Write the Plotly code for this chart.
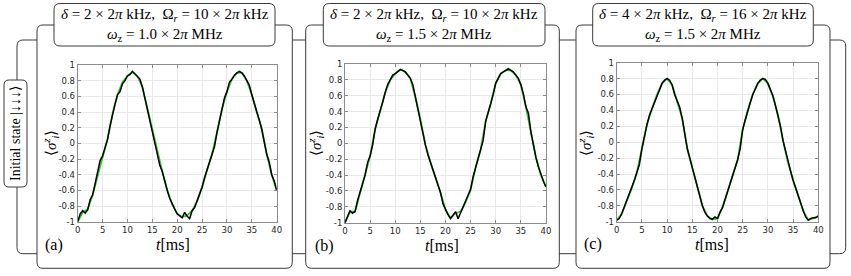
import plotly.graph_objects as go

W, H = 851, 276

# ---------------- data ----------------
t_black = [i * 0.5 for i in range(81)]   # time grid, ms (0 .. 40, step 0.5)
t_green = list(range(41))                # time grid, ms (0 .. 40, step 1)

black_a = [-1.00, -0.90, -0.86, -0.89, -0.85, -0.72, -0.66, -0.52, -0.40, -0.22,
           -0.16, -0.05, 0.05, 0.22, 0.38, 0.50, 0.62, 0.66, 0.76, 0.80,
           0.86, 0.88, 0.92, 0.89, 0.86, 0.82, 0.72, 0.58, 0.45, 0.30,
           0.15, 0.04, -0.12, -0.28, -0.36, -0.50, -0.60, -0.70, -0.78, -0.84,
           -0.90, -0.93, -0.95, -0.88, -0.93, -0.96, -0.86, -0.82, -0.74, -0.66,
           -0.56, -0.44, -0.34, -0.26, -0.14, -0.04, 0.14, 0.30, 0.44, 0.58,
           0.66, 0.78, 0.82, 0.87, 0.90, 0.92, 0.90, 0.86, 0.80, 0.74,
           0.62, 0.50, 0.40, 0.30, 0.18, 0.02, -0.14, -0.24, -0.40, -0.48,
           -0.60]
green_a = [-1.00, -0.88, -0.84, -0.66, -0.42, -0.18, 0.06, 0.38, 0.62, 0.78,
           0.86, 0.91, 0.86, 0.72, 0.45, 0.15, -0.12, -0.36, -0.60, -0.78,
           -0.90, -0.94, -0.92, -0.86, -0.74, -0.56, -0.34, -0.14, 0.14, 0.44,
           0.66, 0.82, 0.90, 0.90, 0.80, 0.62, 0.40, 0.18, -0.14, -0.40,
           -0.60]

black_b = [-1.00, -0.92, -0.85, -0.88, -0.86, -0.72, -0.62, -0.50, -0.40, -0.24,
           -0.16, -0.02, 0.18, 0.30, 0.40, 0.52, 0.64, 0.74, 0.80, 0.86,
           0.88, 0.91, 0.93, 0.92, 0.90, 0.86, 0.82, 0.74, 0.58, 0.44,
           0.30, 0.12, -0.02, -0.14, -0.24, -0.32, -0.42, -0.52, -0.62, -0.76,
           -0.84, -0.90, -0.95, -0.90, -0.86, -0.95, -0.88, -0.80, -0.74, -0.66,
           -0.58, -0.42, -0.30, -0.20, -0.08, 0.04, 0.28, 0.38, 0.50, 0.62,
           0.76, 0.82, 0.88, 0.90, 0.92, 0.94, 0.92, 0.90, 0.86, 0.82,
           0.74, 0.62, 0.46, 0.38, 0.14, -0.04, -0.18, -0.30, -0.40, -0.48,
           -0.55]
green_b = [-1.00, -0.86, -0.86, -0.62, -0.40, -0.16, 0.18, 0.40, 0.64, 0.80,
           0.88, 0.93, 0.90, 0.82, 0.58, 0.30, -0.02, -0.24, -0.42, -0.62,
           -0.84, -0.94, -0.88, -0.86, -0.74, -0.58, -0.30, -0.08, 0.28, 0.50,
           0.76, 0.88, 0.92, 0.92, 0.86, 0.74, 0.46, 0.14, -0.18, -0.40,
           -0.55]

black_c = [-0.98, -0.96, -0.90, -0.82, -0.74, -0.66, -0.58, -0.48, -0.38, -0.28,
           -0.08, 0.08, 0.22, 0.34, 0.42, 0.52, 0.60, 0.68, 0.74, 0.78,
           0.80, 0.78, 0.72, 0.60, 0.52, 0.44, 0.30, 0.08, -0.08, -0.20,
           -0.32, -0.42, -0.56, -0.68, -0.80, -0.88, -0.93, -0.96, -0.97, -0.94,
           -0.96, -0.88, -0.82, -0.72, -0.62, -0.52, -0.42, -0.32, -0.22, -0.08,
           0.16, 0.28, 0.40, 0.50, 0.60, 0.68, 0.74, 0.78, 0.80, 0.79,
           0.74, 0.66, 0.58, 0.46, 0.34, 0.20, 0.02, -0.12, -0.26, -0.36,
           -0.48, -0.58, -0.68, -0.78, -0.86, -0.94, -0.98, -0.96, -0.95, -0.95,
           -0.93]
green_c = [-0.98, -0.90, -0.74, -0.58, -0.38, -0.08, 0.22, 0.42, 0.60, 0.74,
           0.80, 0.72, 0.52, 0.30, -0.08, -0.32, -0.56, -0.80, -0.93, -0.97,
           -0.96, -0.82, -0.62, -0.42, -0.22, 0.16, 0.40, 0.60, 0.74, 0.80,
           0.74, 0.58, 0.34, 0.02, -0.26, -0.48, -0.68, -0.86, -0.98, -0.95,
           -0.93]

x_tickvals = [0, 5, 10, 15, 20, 25, 30, 35, 40]
x_ticktext = ["0", "5", "10", "15", "20", "25", "30", "35", "40"]
y_tickvals = [-1, -0.8, -0.6, -0.4, -0.2, 0, 0.2, 0.4, 0.6, 0.8, 1]
y_ticktext = ["-1", "-0.8", "-0.6", "-0.4", "-0.2", "0", "0.2", "0.4", "0.6", "0.8", "1"]

panel_titles = [
    "<i>δ</i> = 2 × 2<i>π</i> kHz,\u00a0 Ω<sub><i>r</i></sub> = 10 × 2<i>π</i> kHz<br><i>ω</i><sub>z</sub> = 1.0 × 2<i>π</i> MHz",
    "<i>δ</i> = 2 × 2<i>π</i> kHz,\u00a0 Ω<sub><i>r</i></sub> = 10 × 2<i>π</i> kHz<br><i>ω</i><sub>z</sub> = 1.5 × 2<i>π</i> MHz",
    "<i>δ</i> = 4 × 2<i>π</i> kHz,\u00a0 Ω<sub><i>r</i></sub> = 16 × 2<i>π</i> kHz<br><i>ω</i><sub>z</sub> = 1.5 × 2<i>π</i> MHz",
]
panel_tags = ["(a)", "(b)", "(c)"]
row_label = "Initial state |↓↓↓⟩"
x_label = "<i>t</i>[ms]"
y_label = "⟨<i>σ</i><sup><i>z</i></sup><sub><i>i</i></sub>⟩"

blacks = [black_a, black_b, black_c]
greens = [green_a, green_b, green_c]

# ---------------- layout geometry (pixels) ----------------
plot_boxes = [  # x0, x1, ytop, ybottom of the plotting areas
    (77.7, 276.7, 65.0, 221.7),
    (345.0, 546.0, 64.0, 222.7),
    (616.7, 818.3, 62.7, 221.7),
]
panel_frames = [(37.0, 25.0, 292.3, 268.3), (305.7, 25.0, 559.3, 268.3), (576.0, 25.0, 830.0, 268.3)]
title_frames = [(54.0, 3.5, 275.0, 46.0), (323.3, 3.5, 545.0, 46.0), (592.7, 3.5, 813.3, 46.0)]
ylab_x = [51, 316, 586]
xlab = [(173, 244), (442, 245.5), (712, 244)]
tags = [(54, 245), (324, 245.5), (593, 244)]

SERIF = "Liberation Serif"
LINE = "#3a3a3a"


def px(x):
    return x / W


def py(y):
    return 1 - y / H


def rrect(x0, y0, x1, y1, r=5):
    rx, ry = r / W, r / H
    X0, X1, Y0, Y1 = px(x0), px(x1), py(y0), py(y1)
    return (f"M {X0+rx},{Y0} L {X1-rx},{Y0} Q {X1},{Y0} {X1},{Y0-ry} "
            f"L {X1},{Y1+ry} Q {X1},{Y1} {X1-rx},{Y1} L {X0+rx},{Y1} "
            f"Q {X0},{Y1} {X0},{Y1+ry} L {X0},{Y0-ry} Q {X0},{Y0} {X0+rx},{Y0} Z")


fig = go.Figure()
shapes = []
annotations = []

# outer connecting frame
shapes.append(dict(type="path", xref="paper", yref="paper", path=rrect(17, 40, 845.7, 253.7, 6),
                   line=dict(color=LINE, width=1), fillcolor="rgba(0,0,0,0)", layer="below"))
for fr in panel_frames:
    shapes.append(dict(type="path", xref="paper", yref="paper", path=rrect(*fr, 6),
                       line=dict(color=LINE, width=1), fillcolor="white", layer="below"))
for fr in title_frames:
    shapes.append(dict(type="path", xref="paper", yref="paper", path=rrect(*fr, 6),
                       line=dict(color=LINE, width=1), fillcolor="white", layer="below"))
shapes.append(dict(type="path", xref="paper", yref="paper", path=rrect(4, 80, 27, 187, 5),
                   line=dict(color=LINE, width=1), fillcolor="white", layer="below"))

layout_axes = {}
for i in range(3):
    n = "" if i == 0 else str(i + 1)
    x0, x1, yt, yb = plot_boxes[i]
    common = dict(showgrid=True, gridcolor="#e9e9e9", gridwidth=1, zeroline=False,
                  showline=True, linecolor="#8c8c8c", linewidth=1, mirror="allticks",
                  ticks="inside", ticklen=3, tickcolor="#8c8c8c", automargin=False,
                  tickfont=dict(family="DejaVu Sans", size=8.5, color="#262626"))
    layout_axes["xaxis" + n] = dict(domain=[px(x0), px(x1)], anchor="y" + n, range=[0, 40],
                                    tickvals=x_tickvals, ticktext=x_ticktext, **common)
    layout_axes["yaxis" + n] = dict(domain=[py(yb), py(yt)], anchor="x" + n, range=[-1, 1],
                                    tickvals=y_tickvals, ticktext=y_ticktext, **common)

    fig.add_trace(go.Scatter(x=t_green, y=greens[i], mode="lines", xaxis="x" + n, yaxis="y" + n,
                             line=dict(color="#2ecc2e", width=1.8), showlegend=False, hoverinfo="skip"))
    fig.add_trace(go.Scatter(x=t_black, y=blacks[i], mode="lines", xaxis="x" + n, yaxis="y" + n,
                             line=dict(color="black", width=1.5), showlegend=False))

    tx0, ty0, tx1, ty1 = title_frames[i]
    annotations.append(dict(text=panel_titles[i], xref="paper", yref="paper",
                            x=px((tx0 + tx1) / 2), y=py((ty0 + ty1) / 2 + 0.5),
                            xanchor="center", yanchor="middle", showarrow=False,
                            font=dict(family=SERIF, size=15, color="black")))
    annotations.append(dict(text=y_label, xref="paper", yref="paper", x=px(ylab_x[i]), y=py(143),
                            xanchor="center", yanchor="middle", textangle=-90, showarrow=False,
                            font=dict(family=SERIF, size=15, color="black")))
    annotations.append(dict(text=x_label, xref="paper", yref="paper", x=px(xlab[i][0]), y=py(xlab[i][1]),
                            xanchor="center", yanchor="middle", showarrow=False,
                            font=dict(family=SERIF, size=16, color="black")))
    annotations.append(dict(text=panel_tags[i], xref="paper", yref="paper", x=px(tags[i][0]), y=py(tags[i][1]),
                            xanchor="center", yanchor="middle", showarrow=False,
                            font=dict(family=SERIF, size=16, color="black")))

annotations.append(dict(text=row_label, xref="paper", yref="paper", x=px(15.5), y=py(133.5),
                        xanchor="center", yanchor="middle", textangle=-90, showarrow=False,
                        font=dict(family=SERIF, size=14, color="black")))

fig.update_layout(width=W, height=H, margin=dict(l=0, r=0, t=0, b=0, autoexpand=False),
                  paper_bgcolor="white", plot_bgcolor="white",
                  shapes=shapes, annotations=annotations, **layout_axes)

fig.write_html("out.html", config={"displayModeBar": False},
               post_script="document.body.style.margin='0';document.body.style.padding='0';"
                           "document.body.style.overflow='hidden';")
